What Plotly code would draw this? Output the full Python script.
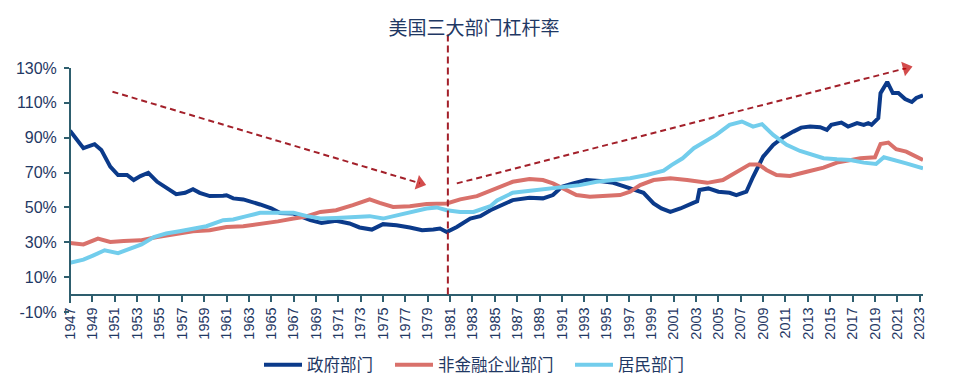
import plotly.graph_objects as go

# ---------------- data ----------------
gov_year = [1947.0, 1948.2, 1949.2, 1949.8, 1950.6, 1951.3, 1952.1, 1952.7, 1953.3, 1954.0,
            1954.8, 1955.9, 1956.5, 1957.3, 1958.0, 1958.6, 1959.5, 1960.7, 1961.0, 1961.6,
            1962.5, 1964.0, 1965.0, 1965.8, 1967.0, 1968.5, 1969.5, 1970.8, 1972.0, 1972.9,
            1974.0, 1975.0, 1976.2, 1977.4, 1978.5, 1979.5, 1980.1, 1980.7, 1981.6, 1982.8,
            1983.7, 1984.6, 1985.2, 1986.6, 1988.1, 1989.3, 1990.2, 1991.0, 1992.0, 1993.2,
            1994.4, 1995.6, 1996.5, 1997.4, 1998.3, 1999.2, 1999.9, 2000.7, 2001.6, 2002.8,
            2003.1, 2003.3, 2004.1, 2005.0, 2006.0, 2006.6, 2007.5, 2008.1, 2009.0, 2009.9,
            2010.8, 2011.7, 2012.4, 2013.2, 2014.1, 2014.7, 2015.1, 2016.0, 2016.6, 2017.4,
            2018.0, 2018.4, 2018.7, 2019.3, 2019.5, 2020.1, 2020.6, 2021.1, 2021.7, 2022.3,
            2022.7, 2023.3]
gov_val = [94.0, 84.0, 86.3, 83.0, 73.4, 68.6, 68.6, 65.7, 68.0, 69.9,
           64.7, 60.3, 57.6, 58.4, 60.5, 58.4, 56.5, 56.7, 57.0, 55.2,
           54.6, 51.7, 49.5, 46.8, 46.5, 42.7, 41.1, 42.3, 40.8, 38.5,
           37.3, 40.4, 39.8, 38.5, 36.9, 37.3, 37.9, 35.9, 38.8, 43.6,
           45.0, 48.4, 50.3, 54.2, 55.5, 55.2, 57.1, 61.8, 63.8, 65.7,
           65.1, 64.1, 62.2, 60.3, 58.4, 52.3, 49.4, 47.4, 49.4, 52.8,
           53.5, 60.0, 60.9, 59.0, 58.4, 57.1, 59.0, 67.6, 79.1, 85.9,
           90.3, 93.5, 95.8, 96.4, 96.0, 94.5, 97.4, 98.7, 96.4, 98.4,
           97.4, 98.4, 97.4, 101.2, 115.6, 122.0, 115.6, 115.6, 112.2, 110.5,
           112.8, 114.3]

corp_year = [1947.0, 1948.2, 1949.5, 1950.6, 1951.8, 1953.3, 1954.8, 1956.5, 1958.0, 1959.5,
             1961.0, 1962.5, 1964.0, 1965.6, 1967.0, 1968.0, 1969.4, 1970.8, 1972.3, 1973.8,
             1974.7, 1975.9, 1977.4, 1978.9, 1980.7, 1981.9, 1983.4, 1984.6, 1985.2, 1986.6,
             1988.1, 1989.3, 1990.2, 1991.1, 1992.3, 1993.5, 1995.0, 1996.2, 1997.1, 1998.0,
             1999.2, 2000.7, 2002.2, 2003.2, 2004.0, 2005.4, 2006.6, 2007.8, 2008.6, 2009.3,
             2010.2, 2011.4, 2012.9, 2014.4, 2015.6, 2016.8, 2017.7, 2019.0, 2019.5, 2020.2,
             2020.9, 2021.8, 2022.7, 2023.3]
corp_val = [29.6, 28.8, 32.1, 30.2, 30.7, 31.1, 33.0, 35.0, 36.3, 36.9,
            38.8, 39.2, 40.4, 42.0, 43.6, 44.6, 47.4, 48.4, 51.3, 54.6,
            52.6, 50.3, 50.7, 51.9, 52.3, 54.6, 56.5, 59.5, 60.9, 64.7,
            66.3, 65.7, 63.8, 60.9, 57.1, 56.1, 56.7, 57.1, 59.0, 62.8,
            65.7, 66.7, 65.7, 64.7, 64.1, 65.7, 70.5, 74.7, 74.7, 71.5,
            68.6, 68.0, 70.5, 72.8, 75.7, 76.8, 78.2, 78.8, 86.4, 87.2,
            83.4, 82.0, 78.8, 77.2]

hh_year = [1947.0, 1948.2, 1949.1, 1950.1, 1951.3, 1952.4, 1953.4, 1954.5, 1955.6, 1956.8,
           1958.0, 1959.2, 1960.7, 1961.6, 1962.8, 1964.0, 1965.2, 1967.0, 1968.2, 1969.4,
           1970.8, 1972.3, 1973.8, 1975.0, 1976.2, 1977.4, 1978.9, 1979.8, 1980.7, 1981.9,
           1983.1, 1984.6, 1985.2, 1986.6, 1988.1, 1989.6, 1991.1, 1992.6, 1994.1, 1995.6,
           1997.1, 1998.6, 2000.1, 2000.8, 2001.8, 2002.8, 2003.6, 2004.8, 2006.0, 2007.1,
           2008.1, 2008.9, 2009.9, 2011.1, 2012.3, 2013.5, 2014.4, 2015.6, 2016.8, 2018.0,
           2019.1, 2019.8, 2020.6, 2021.8, 2023.3]
hh_val = [18.3, 20.0, 22.5, 25.4, 23.8, 26.4, 28.8, 33.0, 35.0, 36.3,
          37.9, 39.2, 42.7, 43.1, 45.0, 46.9, 46.9, 46.9, 45.0, 43.6,
          44.0, 44.6, 45.0, 43.6, 45.5, 47.4, 49.4, 50.0, 48.4, 47.4,
          47.4, 50.7, 54.0, 58.4, 59.5, 60.9, 62.2, 62.8, 64.7, 65.7,
          66.7, 68.6, 71.1, 74.3, 78.2, 84.0, 86.8, 91.6, 97.4, 99.3,
          96.4, 97.8, 91.6, 85.9, 82.4, 80.1, 78.2, 77.6, 77.2, 75.7,
          74.9, 78.8, 77.6, 75.3, 72.4]

series_names = ["政府部门", "非金融企业部门", "居民部门"]
tick_years = list(range(1947, 2024, 2))
tick_labels = [str(y) for y in tick_years]
y_ticks = list(range(-10, 131, 20))
y_labels = [f"{v}%" for v in y_ticks]

# annotation geometry (year, value)
arrow1_x = [1950.8, 1978.3]
arrow1_y = [116.4, 63.9]
arrow2_x = [1981.6, 2021.8]
arrow2_y = [63.8, 129.9]
split_year = 1980.8

# ---------------- styling ----------------
NAVY = "#0B3A8A"
RED = "#D9716B"
LBLUE = "#72CDEC"
DARKRED = "#A3202A"
HEADRED = "#C00000"
TXT = "#1F3864"
AXIS = "#2E5E6E"
NUMFONT = "Liberation Sans, Arial, sans-serif"
CJKFONT = "Noto Sans CJK SC, sans-serif"

Y_MIN, Y_MAX = -10, 130
PLOT_L, PLOT_R = 70, 923
legend_px = [259, 390, 570]
legend_ids = ["legend", "legend2", "legend3"]

fig = go.Figure()
for xs, ys, name, col, lg in [(gov_year, gov_val, series_names[0], NAVY, legend_ids[0]),
                              (corp_year, corp_val, series_names[1], RED, legend_ids[1]),
                              (hh_year, hh_val, series_names[2], LBLUE, legend_ids[2])]:
    fig.add_trace(go.Scatter(x=xs, y=ys, name=name, mode="lines", legend=lg,
                             line=dict(color=col, width=4)))

for ax_, ay_ in [(arrow1_x, arrow1_y), (arrow2_x, arrow2_y)]:
    fig.add_trace(go.Scatter(
        x=ax_, y=ay_, mode="lines+markers", showlegend=False, hoverinfo="skip",
        cliponaxis=False,
        line=dict(color=DARKRED, width=2, dash="6px,4px"),
        marker=dict(symbol="triangle-up", size=[0, 13], color=HEADRED,
                    angleref="previous", line=dict(width=0)),
    ))

zero_pos = (0 - Y_MIN) / (Y_MAX - Y_MIN)

fig.add_shape(type="line", xref="x", yref="paper", x0=split_year, x1=split_year,
              y0=zero_pos, y1=1.14, line=dict(color=DARKRED, width=2, dash="7px,4px"))
fig.add_shape(type="line", xref="paper", yref="paper", x0=0, x1=0,
              y0=0.037, y1=1.0, line=dict(color=AXIS, width=2))

legend_common = dict(orientation="h", xanchor="left", y=-0.217, yanchor="middle",
                     font=dict(size=16.5, color=TXT, family=CJKFONT), itemwidth=38,
                     bgcolor="rgba(0,0,0,0)", borderwidth=0)
legends = {}
for lid, px in zip(legend_ids, legend_px):
    legends[lid] = dict(x=(px - PLOT_L) / (PLOT_R - PLOT_L), **legend_common)

fig.update_layout(
    width=964, height=387,
    margin=dict(l=PLOT_L, r=964 - PLOT_R, t=68, b=75, autoexpand=False),
    plot_bgcolor="white", paper_bgcolor="white",
    title=dict(text="美国三大部门杠杆率", x=474 / 964, xanchor="center",
               y=1 - 28 / 387, yanchor="middle",
               font=dict(size=19, color=TXT, family=CJKFONT)),
    **legends,
    xaxis=dict(range=[1947, 2023.3], anchor="free", position=zero_pos, automargin=False,
               tickvals=tick_years, ticktext=tick_labels, tickangle=-90,
               ticks="outside", ticklen=6, tickwidth=1.5, tickcolor=AXIS,
               showline=True, linecolor=AXIS, linewidth=2,
               showgrid=False, zeroline=False,
               tickfont=dict(size=14.5, color=TXT, family=NUMFONT)),
    yaxis=dict(range=[Y_MIN, Y_MAX], tickvals=y_ticks, ticktext=y_labels, automargin=False,
               ticks="outside", ticklen=5, tickwidth=1.5, tickcolor=AXIS,
               ticklabelstandoff=4,
               showline=False, showgrid=False, zeroline=False,
               tickfont=dict(size=16, color=TXT, family=NUMFONT)),
)

fig.write_html("out.html", config={"displayModeBar": False},
               post_script="document.body.style.margin='0';document.body.style.overflow='hidden';")
